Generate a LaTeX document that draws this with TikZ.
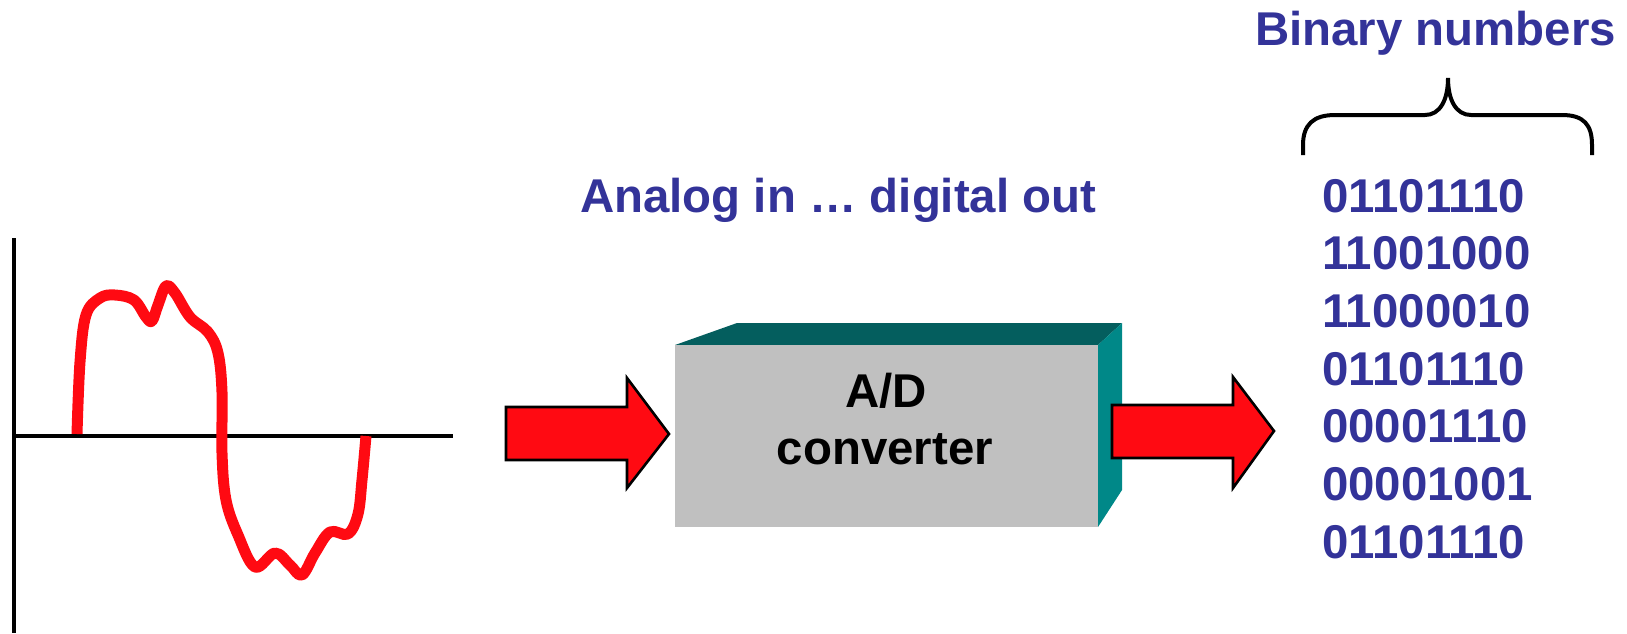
\documentclass[tikz,border=0pt]{standalone}
\usepackage{fontspec}
\setmainfont{Liberation Sans}
\definecolor{labelblue}{RGB}{51,51,153}
\definecolor{signalred}{RGB}{255,10,18}
\definecolor{boxgray}{RGB}{192,192,192}
\definecolor{boxtop}{RGB}{4,94,94}
\definecolor{boxside}{RGB}{0,136,136}
\tikzset{
  bigtext/.style={font=\bfseries\fontsize{47.4}{57}\selectfont, inner sep=0pt},
  bluetext/.style={bigtext, text=labelblue},
  blockarrow/.style={fill=signalred, draw=black, line width=2.6pt, line join=miter},
  axisline/.style={black, line width=3.3pt},
  signal/.style={signalred, line width=11pt, line cap=butt, line join=round},
}
\begin{document}
\begin{tikzpicture}[x=1pt, y=-1pt]
\useasboundingbox (0,0) rectangle (1627,633);

% axes of the analog signal
\coordinate (yaxtop) at (14,238);
\coordinate (yaxbot) at (14,633);
\coordinate (xaxleft) at (14,436);
\coordinate (xaxright) at (453,436);
\draw[axisline] (yaxtop) -- (yaxbot);
\draw[axisline] (xaxleft) -- (xaxright);

% the analog waveform
\draw[signal] plot[smooth, tension=0.6] coordinates {
  (77,434) (80,362) (86,315) (100,298) (115,295) (134,300) (146,317)
  (152,321) (158,305) (166,286) (175,293) (190,317) (208,332) (218,353)
  (222,392) (222,453) (226,500) (238,535) (255,567) (275,553) (290,565)
  (302,575) (315,553) (330,532) (348,534) (358,514) (362,480) (366,436)};

% input block arrow
\draw[blockarrow] (506,407) -- (627,407) -- (627,378) -- (669,434)
  -- (627,488) -- (627,460) -- (506,460) -- cycle;

% the converter box: top and side faces, then the front face
\fill[boxtop] (675,345) -- (737,323) -- (1122,323) -- (1098,345) -- cycle;
\fill[boxside] (1098,345) -- (1122,323) -- (1122,490) -- (1098,527) -- cycle;
\node[fill=boxgray, inner sep=0pt, minimum width=423pt, minimum height=182pt,
      anchor=north west] (adc) at (675,345) {};
\node[bigtext, anchor=base] (adtop) at (886,407) {A/D};
\node[bigtext, anchor=base] (adbot) at (885,464) {converter};

% output block arrow
\draw[blockarrow] (1112,405) -- (1233,405) -- (1233,377) -- (1274,431)
  -- (1233,488) -- (1233,458) -- (1112,458) -- cycle;

% headings
\node[bluetext, anchor=base west] (title) at (580,212) {Analog in … digital out};
\node[bluetext, anchor=base west] (binlabel) at (1255,45) {Binary numbers};

% brace over the binary words
\draw[black, line width=4pt]
  (1303,155) -- (1303,145) .. controls (1303,125) and (1313,115) .. (1335,115)
  -- (1425,115) .. controls (1440,115) and (1448,100) .. (1448,78)
  .. controls (1448,100) and (1456,115) .. (1471,115)
  -- (1562,115) .. controls (1584,115) and (1592,125) .. (1592,145)
  -- (1592,155);

% binary words
\foreach \w [count=\i] in {01101110,11001000,11000010,01101110,00001110,00001001,01101110}
  \node[bluetext, anchor=base west] (word\i) at (1322,{212+57.7*(\i-1)}) {\w};
\end{tikzpicture}
\end{document}
